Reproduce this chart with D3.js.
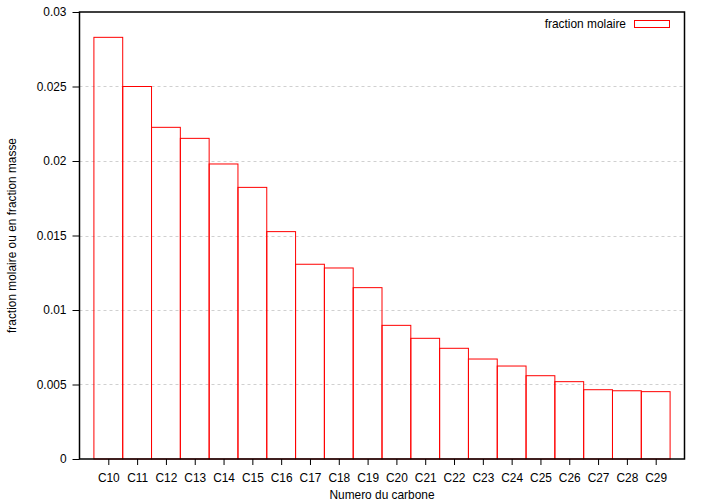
<!DOCTYPE html>
<html>
<head>
<meta charset="utf-8">
<script src="https://cdn.jsdelivr.net/npm/d3@7/dist/d3.min.js"></script>
<style>
html,body{margin:0;padding:0;background:#fff;}
svg{display:block;font-family:"Liberation Sans",Arial,sans-serif;}
</style>
</head>
<body>
<svg id="chart" width="705" height="504"></svg>
<script>
const categories = ["C10","C11","C12","C13","C14","C15","C16","C17","C18","C19","C20","C21","C22","C23","C24","C25","C26","C27","C28","C29"];
const fractionMolaire = [0.0283,0.0250,0.02226,0.02152,0.0198,0.01823,0.01526,0.01307,0.01282,0.0115,0.00897,0.0081,0.00743,0.00671,0.00624,0.00559,0.00519,0.00465,0.00458,0.00452];
const yTicks = [0,0.005,0.01,0.015,0.02,0.025,0.03];
const yTickLabels = ["0","0.005","0.01","0.015","0.02","0.025","0.03"];
const seriesName = "fraction molaire";
const xTitle = "Numero du carbone";
const yTitle = "fraction molaire ou en fraction masse";

const svg = d3.select("#chart");
const L = 79.5, R = 684.5, T = 12, B = 459;
const FS = 11.9;

const x = d3.scaleLinear().domain([-1, categories.length]).range([L, R]);
const y = d3.scaleLinear().domain([0, 0.03]).range([B, T]);

// grid
svg.append("g").selectAll("line").data(yTicks.filter(v => v > 0 && v < 0.03)).join("line")
  .attr("x1", L).attr("x2", R)
  .attr("y1", d => Math.round(y(d)) + 0.5).attr("y2", d => Math.round(y(d)) + 0.5)
  .attr("stroke", "#d0d0d0").attr("stroke-width", 1).attr("stroke-dasharray", "3,3");

// bars (unfilled boxes)
svg.append("g").selectAll("rect").data(fractionMolaire).join("rect")
  .attr("x", (d, i) => x(i - 0.5))
  .attr("width", x(1) - x(0))
  .attr("y", d => y(d))
  .attr("height", d => B - y(d))
  .attr("fill", "none").attr("stroke", "#ff0000").attr("stroke-width", 1);

// y axis
const yAxis = d3.axisLeft(y).tickValues(yTicks).tickFormat((d, i) => yTickLabels[i]).tickSize(7).tickPadding(6);
const gy = svg.append("g").attr("transform", `translate(${L},0)`).call(yAxis);
gy.select(".domain").remove();
gy.selectAll("text").attr("font-size", FS).attr("fill", "#000").attr("font-family", "Liberation Sans, Arial, sans-serif");
gy.selectAll("line").attr("stroke", "#000");

// x axis
const xAxis = d3.axisBottom(x).tickValues(d3.range(categories.length)).tickFormat(i => categories[i]).tickSize(6).tickPadding(9);
const gx = svg.append("g").attr("transform", `translate(0,${B})`).call(xAxis);
gx.select(".domain").remove();
gx.selectAll("text").attr("font-size", FS).attr("fill", "#000").attr("font-family", "Liberation Sans, Arial, sans-serif");
gx.selectAll("line").attr("stroke", "#000");

// frame
svg.append("rect").attr("x", L).attr("y", T).attr("width", R - L).attr("height", B - T)
  .attr("fill", "none").attr("stroke", "#000").attr("stroke-width", 1.5);

// titles
svg.append("text").attr("x", (L + R) / 2).attr("y", 499).attr("text-anchor", "middle")
  .attr("font-size", FS).text(xTitle);
svg.append("text").attr("transform", `translate(16,${(T + B) / 2}) rotate(-90)`).attr("text-anchor", "middle")
  .attr("font-size", FS).text(yTitle);

// legend
svg.append("text").attr("x", 626).attr("y", 28).attr("text-anchor", "end").attr("font-size", FS).text(seriesName);
svg.append("rect").attr("x", 634.5).attr("y", 20.5).attr("width", 35).attr("height", 7)
  .attr("fill", "none").attr("stroke", "#ff0000").attr("stroke-width", 1);
</script>
</body>
</html>
